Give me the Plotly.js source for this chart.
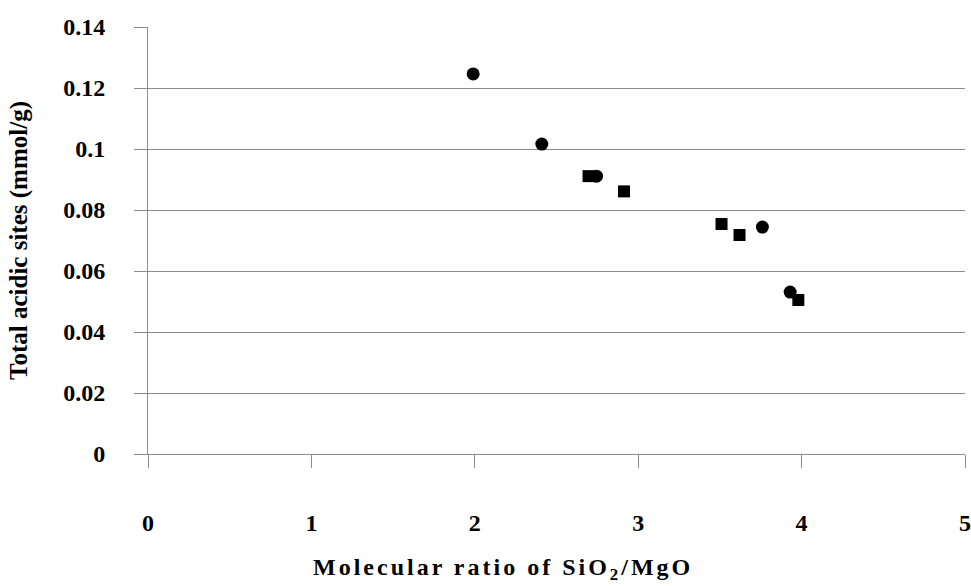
<!DOCTYPE html>
<html>
<head>
<meta charset="utf-8">
<script src="https://cdn.plot.ly/plotly-3.0.1.min.js"></script>
<style>
html, body { margin: 0; padding: 0; background: #fff; }
#chart { width: 971px; height: 586px; }
.annotation-text { letter-spacing: 3px; }
</style>
</head>
<body>
<div id="chart"></div>
<script>
// Series 1 (circles)
const circleX = [1.99, 2.41, 2.745, 3.76, 3.93];
const circleY = [0.1246, 0.1016, 0.0911, 0.0744, 0.0531];
// Series 2 (squares)
const squareX = [2.696, 2.913, 3.51, 3.62, 3.98];
const squareY = [0.0911, 0.0861, 0.0754, 0.0718, 0.0505];
// Tick labels
const xTickVals = [0, 1, 2, 3, 4, 5];
const xTickText = ['0', '1', '2', '3', '4', '5'];
const yTickVals = [0, 0.02, 0.04, 0.06, 0.08, 0.1, 0.12, 0.14];
const yTickText = ['0', '0.02', '0.04', '0.06', '0.08', '0.1', '0.12', '0.14'];

const fontFam = 'serif';
const axisGray = '#8c8c8c';

const traces = [
  {
    x: circleX, y: circleY, type: 'scatter', mode: 'markers',
    marker: { symbol: 'circle', size: 13, color: '#000' },
    showlegend: false, hoverinfo: 'x+y'
  },
  {
    x: squareX, y: squareY, type: 'scatter', mode: 'markers',
    marker: { symbol: 'square', size: 12, color: '#000' },
    showlegend: false, hoverinfo: 'x+y'
  }
];

const layout = {
  width: 971, height: 586,
  margin: { l: 148, r: 6, t: 27, b: 132 },
  paper_bgcolor: '#fff', plot_bgcolor: '#fff',
  font: { family: fontFam, color: '#000', size: 24 },
  xaxis: {
    range: [0, 5], tickvals: xTickVals, ticktext: xTickText,
    showgrid: false, zeroline: false,
    showline: true, linecolor: axisGray, linewidth: 1,
    ticks: 'outside', ticklen: 13, tickcolor: axisGray, tickwidth: 1,
    ticklabelstandoff: 34,
    tickfont: { family: fontFam, size: 24, color: '#000', weight: 'bold' },
    fixedrange: true
  },
  yaxis: {
    range: [0, 0.14], tickvals: yTickVals, ticktext: yTickText,
    showgrid: true, gridcolor: axisGray, gridwidth: 1, zeroline: false,
    showline: true, linecolor: axisGray, linewidth: 1,
    ticks: 'outside', ticklen: 13, tickcolor: axisGray, tickwidth: 1,
    ticklabelstandoff: 24,
    tickfont: { family: fontFam, size: 24, color: '#000', weight: 'bold' },
    title: { text: '<b>Total acidic sites (mmol/g)</b>', standoff: 28,
             font: { family: fontFam, size: 25, color: '#000' } },
    fixedrange: true
  },
  annotations: [
    {
      text: '<b>Molecular ratio of SiO<sub>2</sub>/MgO</b>',
      xref: 'paper', yref: 'paper', x: 0.4345, y: -0.27,
      xanchor: 'center', yanchor: 'middle', showarrow: false,
      font: { family: fontFam, size: 24, color: '#000' }
    }
  ]
};

Plotly.newPlot('chart', traces, layout, { staticPlot: true, displayModeBar: false });
</script>
</body>
</html>
